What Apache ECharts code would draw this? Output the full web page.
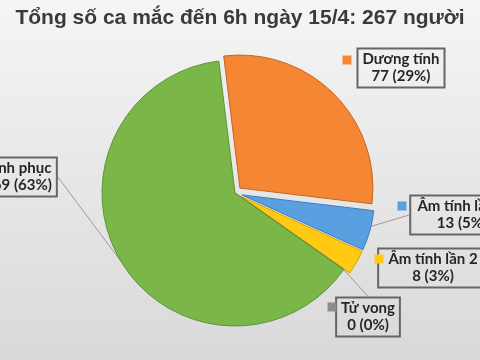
<!DOCTYPE html>
<html><head><meta charset="utf-8">
<script src="https://cdn.jsdelivr.net/npm/echarts@6/dist/echarts.min.js"></script>
<style>html,body{margin:0;padding:0;}#c{width:480px;height:360px;}</style>
</head><body><div id="c"></div>
<script>
const titleText = 'Tổng số ca mắc đến 6h ngày 15/4: 267 người';
const categories = ['Dương tính', 'Âm tính lần 1', 'Âm tính lần 2', 'Tử vong', 'Bình phục'];
const values = [77, 13, 8, 0, 169];
const percents = ['29%', '5%', '3%', '0%', '63%'];
const colors = ['#F58634', '#5A9FE0', '#FFC914', '#8C8C8C', '#7AB648'];
const borders = ['#C8651E', '#3F7DBF', '#D9A400', '#6E6E6E', '#5B9536'];
const exploded = [true, true, true, false, false];
const showLine = [false, true, false, true, true];

// label box placement (box center x, box center y) and key placement
const boxPos = [[401, 68], [462, 215], [433, 268], [368, 317], [18, 177]];
const keyPos = [[347, 60], [402, 206], [379, 259], [332, 307], [-30, 168]];

const chart = echarts.init(document.getElementById('c'));
const mainData = categories.map((n, i) => ({
  name: n, value: values[i], selected: exploded[i],
  itemStyle: { color: colors[i], borderColor: borders[i], borderWidth: 1 }
}));
const labelData = categories.map((n, i) => ({
  name: n, value: values[i],
  labelLine: { show: showLine[i] }
}));
const keyData = categories.map((n, i) => ({
  name: n, value: values[i],
  label: { formatter: '{k|}', rich: { k: { width: 9, height: 9, backgroundColor: colors[i] } } }
}));
const common = { type: 'pie', center: [235, 193], radius: 133, startAngle: 97, emphasis: { disabled: true } };
chart.setOption({
  animation: false,
  backgroundColor: { type: 'linear', x: 0, y: 0, x2: 0, y2: 1,
    colorStops: [{ offset: 0, color: '#f5f5f5' }, { offset: 1, color: '#d9d9d9' }] },
  title: { text: titleText, left: 'center', top: 3,
    textStyle: { fontFamily: 'Liberation Sans', fontWeight: 'bold', fontSize: 21, color: '#3a3a3a' } },
  series: [Object.assign({}, common, {
    selectedMode: 'multiple', selectedOffset: 7,
    data: mainData,
    label: { show: false }, labelLine: { show: false }
  }), Object.assign({}, common, {
    silent: true,
    data: labelData,
    itemStyle: { color: 'rgba(0,0,0,0)', borderWidth: 0 },
    label: {
      show: true,
      formatter: p => p.name + '\n' + p.value + ' (' + percents[p.dataIndex] + ')',
      fontFamily: 'Lato', fontWeight: 'bold', fontSize: 15, color: '#262626',
      lineHeight: 17, align: 'center',
      borderColor: '#666', borderWidth: 1, padding: [3, 5, 2, 5], backgroundColor: 'rgba(255,255,255,0)'
    },
    labelLine: { length: 0, length2: 0, lineStyle: { color: '#9a9a9a', width: 1 } },
    labelLayout: p => ({ x: boxPos[p.dataIndex][0], y: boxPos[p.dataIndex][1], align: 'center', verticalAlign: 'middle' })
  }), Object.assign({}, common, {
    silent: true,
    data: keyData,
    itemStyle: { color: 'rgba(0,0,0,0)', borderWidth: 0 },
    label: { show: true },
    labelLine: { show: false },
    labelLayout: p => ({ x: keyPos[p.dataIndex][0], y: keyPos[p.dataIndex][1], align: 'center', verticalAlign: 'middle' })
  })]
});
</script></body></html>
